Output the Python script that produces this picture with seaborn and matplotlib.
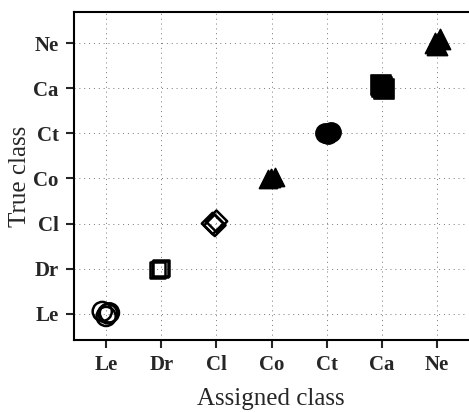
import matplotlib
matplotlib.use("Agg")
import matplotlib.pyplot as plt
import seaborn as sns
import pandas as pd

# class labels (assigned on x, true on y)
classes = ["Le", "Dr", "Cl", "Co", "Ct", "Ca", "Ne"]

# a few samples per class (slightly scattered)
true_cls = ["Le"] * 4 + ["Dr"] * 3 + ["Cl"] * 3 + ["Co"] * 3 + ["Ct"] * 3 + ["Ca"] * 3 + ["Ne"] * 3
assigned_x = [-0.07, 0.03, 0.0, 0.06,
              0.93, 1.0, 0.97,
              1.93, 2.0, 1.97,
              2.93, 3.06, 2.99,
              3.96, 4.08, 4.02,
              4.99, 5.03, 5.0,
              5.96, 6.06, 6.0]
true_y = [0.05, 0.0, -0.06, 0.02,
          -0.03, 0.02, 0.0,
          0.0, 0.05, -0.04,
          -0.02, 0.03, 0.0,
          0.0, 0.02, -0.01,
          0.07, -0.02, 0.02,
          0.0, 0.1, -0.04]

df = pd.DataFrame({"cls": true_cls, "x": assigned_x, "y": true_y})
df["y"] = df["y"] + df["cls"].map({c: i for i, c in enumerate(classes)})

markers = {"Le": "o", "Dr": "s", "Cl": "D", "Co": "^", "Ct": "o", "Ca": "s", "Ne": "^"}
filled = {"Le": False, "Dr": False, "Cl": False, "Co": True, "Ct": True, "Ca": True, "Ne": True}
sizes = {"Le": 190, "Dr": 130, "Cl": 120, "Co": 170, "Ct": 190, "Ca": 190, "Ne": 210}

sns.set_style("white")
plt.rcParams['font.family'] = ['Liberation Serif', 'DejaVu Serif']

fig, ax = plt.subplots(figsize=(4.69, 4.13), dpi=100)
fig.subplots_adjust(left=0.158, right=0.998, bottom=0.177, top=0.971)

for c in classes:
    sub = df[df["cls"] == c]
    if filled[c]:
        sns.scatterplot(data=sub, x="x", y="y", marker=markers[c], s=sizes[c],
                        color="black", edgecolor="black", linewidth=1.2, ax=ax, legend=False)
    else:
        sns.scatterplot(data=sub, x="x", y="y", marker=markers[c], s=sizes[c],
                        facecolor="none", edgecolor="black", linewidth=1.8, ax=ax, legend=False)

ax.set_xlim(-0.58, 6.56)
ax.set_ylim(-0.58, 6.69)
ax.set_xticks(range(len(classes)))
ax.set_xticklabels(classes, fontweight="bold")
ax.set_yticks(range(len(classes)))
ax.set_yticklabels(classes, fontweight="bold")
ax.tick_params(axis="both", labelsize=15, length=6, width=1.5, direction="out",
               bottom=True, left=True, pad=5)
ax.grid(True, linestyle=(0, (1, 4)), color="#777777", linewidth=0.7)
ax.set_xlabel("Assigned class", fontsize=18, labelpad=9)
ax.set_ylabel("True class", fontsize=18, labelpad=2)
for side in ["left", "bottom", "top"]:
    ax.spines[side].set_linewidth(1.5)
    ax.spines[side].set_color("black")
ax.spines["right"].set_visible(False)

fig.savefig("out.png", dpi=100)
